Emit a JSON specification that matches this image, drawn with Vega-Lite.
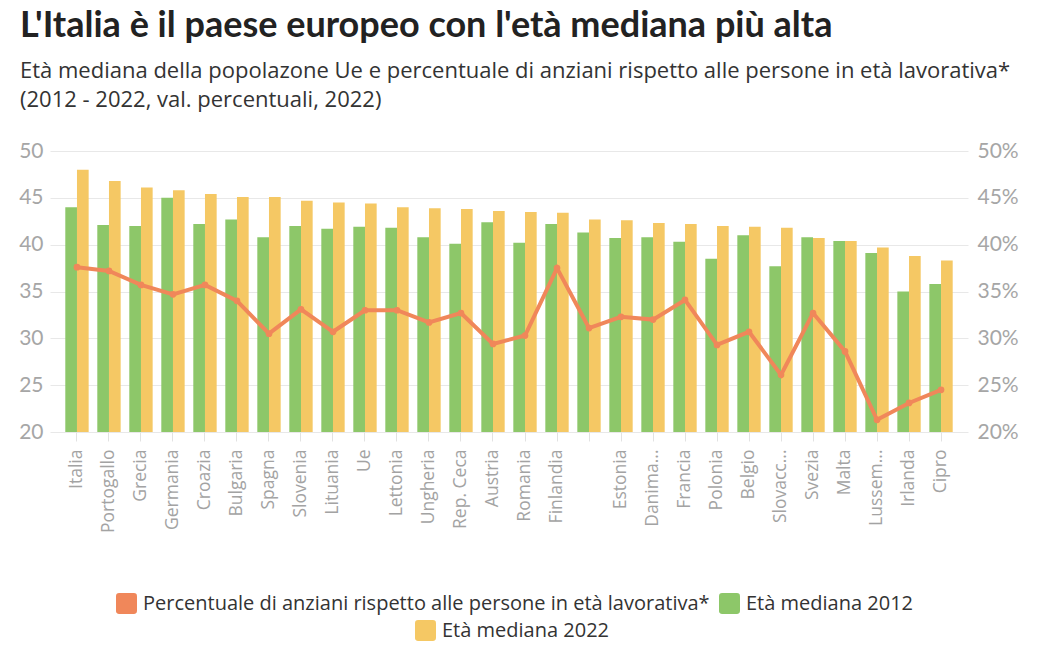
{
  "$schema": "https://vega.github.io/schema/vega-lite/v6.json",
  "width": 918,
  "height": 281,
  "autosize": {"type": "none"},
  "padding": {"left": 50, "top": 151, "right": 82, "bottom": 220},
  "background": "white",
  "title": {
    "text": "L'Italia è il paese europeo con l'età mediana più alta",
    "subtitle": [
      "Età mediana della popolazone Ue e percentuale di anziani rispetto alle persone in età lavorativa*",
      "(2012 - 2022, val. percentuali, 2022)"
    ],
    "anchor": "start",
    "frame": "group",
    "dx": -30,
    "offset": 28,
    "font": "Lato",
    "fontSize": 36,
    "fontWeight": "bold",
    "color": "#222222",
    "subtitleFont": "Open Sans",
    "subtitleFontSize": 22,
    "subtitleColor": "#333333",
    "subtitlePadding": 16,
    "subtitleLineHeight": 29
  },
  "data": {
    "values": [
      {"paese": "Italia", "eta2012": 44.0, "eta2022": 48.0, "anziani": 37.6},
      {"paese": "Portogallo", "eta2012": 42.1, "eta2022": 46.8, "anziani": 37.2},
      {"paese": "Grecia", "eta2012": 42.0, "eta2022": 46.1, "anziani": 35.7},
      {"paese": "Germania", "eta2012": 45.0, "eta2022": 45.8, "anziani": 34.7},
      {"paese": "Croazia", "eta2012": 42.2, "eta2022": 45.4, "anziani": 35.7},
      {"paese": "Bulgaria", "eta2012": 42.7, "eta2022": 45.1, "anziani": 34.0},
      {"paese": "Spagna", "eta2012": 40.8, "eta2022": 45.1, "anziani": 30.5},
      {"paese": "Slovenia", "eta2012": 42.0, "eta2022": 44.7, "anziani": 33.1},
      {"paese": "Lituania", "eta2012": 41.7, "eta2022": 44.5, "anziani": 30.7},
      {"paese": "Ue", "eta2012": 41.9, "eta2022": 44.4, "anziani": 33.0},
      {"paese": "Lettonia", "eta2012": 41.8, "eta2022": 44.0, "anziani": 33.0},
      {"paese": "Ungheria", "eta2012": 40.8, "eta2022": 43.9, "anziani": 31.7},
      {"paese": "Rep. Ceca", "eta2012": 40.1, "eta2022": 43.8, "anziani": 32.7},
      {"paese": "Austria", "eta2012": 42.4, "eta2022": 43.6, "anziani": 29.4},
      {"paese": "Romania", "eta2012": 40.2, "eta2022": 43.5, "anziani": 30.3},
      {"paese": "Finlandia", "eta2012": 42.2, "eta2022": 43.4, "anziani": 37.5},
      {"paese": "Paesi Bassi", "eta2012": 41.3, "eta2022": 42.7, "anziani": 31.1},
      {"paese": "Estonia", "eta2012": 40.7, "eta2022": 42.6, "anziani": 32.3},
      {"paese": "Danimarca", "eta2012": 40.8, "eta2022": 42.3, "anziani": 32.0},
      {"paese": "Francia", "eta2012": 40.3, "eta2022": 42.2, "anziani": 34.1},
      {"paese": "Polonia", "eta2012": 38.5, "eta2022": 42.0, "anziani": 29.3},
      {"paese": "Belgio", "eta2012": 41.0, "eta2022": 41.9, "anziani": 30.7},
      {"paese": "Slovacchia", "eta2012": 37.7, "eta2022": 41.8, "anziani": 26.1},
      {"paese": "Svezia", "eta2012": 40.8, "eta2022": 40.7, "anziani": 32.7},
      {"paese": "Malta", "eta2012": 40.4, "eta2022": 40.4, "anziani": 28.6},
      {"paese": "Lussemburgo", "eta2012": 39.1, "eta2022": 39.7, "anziani": 21.3},
      {"paese": "Irlanda", "eta2012": 35.0, "eta2022": 38.8, "anziani": 23.1},
      {"paese": "Cipro", "eta2012": 35.8, "eta2022": 38.3, "anziani": 24.5}
    ]
  },
  "encoding": {
    "x": {
      "field": "paese",
      "type": "nominal",
      "sort": null,
      "title": null,
      "scale": {"paddingInner": 0.27, "paddingOuter": 0.478},
      "axis": {
        "labelAngle": -90,
        "labelFont": "Open Sans",
        "labelFontSize": 17.5,
        "labelColor": "#a3a3a3",
        "labelPadding": 8,
        "labelOverlap": false,
        "tickSize": 9,
        "tickColor": "#e2e2e2",
        "domain": false,
        "grid": false,
        "labelExpr": "datum.label == 'Paesi Bassi' ? '' : datum.label == 'Danimarca' ? 'Danima...' : datum.label == 'Slovacchia' ? 'Slovacc...' : datum.label == 'Lussemburgo' ? 'Lussem...' : datum.label"
      }
    }
  },
  "layer": [
    {
      "layer": [
        {
          "mark": {"type": "bar"},
          "encoding": {
            "xOffset": {"datum": "2012", "scale": {"domain": ["2012", "2022"], "paddingInner": 0}},
            "y": {
              "field": "eta2012",
              "type": "quantitative",
              "title": null,
              "scale": {"domain": [20, 50], "zero": false, "clamp": true},
              "axis": {
                "values": [20, 25, 30, 35, 40, 45, 50],
                "labelFont": "Lato",
                "labelFontSize": 21,
                "labelColor": "#a6a6a6",
                "labelPadding": 7,
                "domain": false,
                "ticks": false,
                "grid": true,
                "gridColor": "#e8e8e8"
              }
            },
            "color": {
              "datum": "Età mediana 2012",
              "scale": {
                "domain": ["Percentuale di anziani rispetto alle persone in età lavorativa*", "Età mediana 2012"],
                "range": ["#f0875a", "#8dc769"]
              },
              "legend": {"orient": "none", "legendX": 66, "legendY": 442, "direction": "horizontal", "title": null}
            }
          }
        },
        {
          "mark": {"type": "bar"},
          "encoding": {
            "xOffset": {"datum": "2022"},
            "y": {"field": "eta2022", "type": "quantitative"},
            "fill": {
              "datum": "Età mediana 2022",
              "scale": {"range": ["#f5c864"]},
              "legend": {"orient": "none", "legendX": 365, "legendY": 469, "direction": "horizontal", "title": null}
            }
          }
        }
      ]
    },
    {
      "mark": {"type": "line", "strokeWidth": 4, "point": {"size": 45, "filled": true}},
      "encoding": {
        "y": {
          "field": "anziani",
          "type": "quantitative",
          "title": null,
          "scale": {"domain": [20, 50], "zero": false},
          "axis": {
            "orient": "right",
            "values": [20, 25, 30, 35, 40, 45, 50],
            "labelExpr": "datum.value + '%'",
            "labelFont": "Lato",
            "labelFontSize": 21,
            "labelColor": "#a6a6a6",
            "labelPadding": 9,
            "domain": false,
            "ticks": false,
            "grid": false
          }
        },
        "color": {"datum": "Percentuale di anziani rispetto alle persone in età lavorativa*"}
      }
    }
  ],
  "resolve": {"scale": {"y": "independent"}},
  "config": {
    "view": {"stroke": null},
    "legend": {
      "symbolType": "M-0.7,-1H0.7Q1,-1 1,-0.7V0.7Q1,1 0.7,1H-0.7Q-1,1 -1,0.7V-0.7Q-1,-1 -0.7,-1Z",
      "symbolSize": 441,
      "symbolStrokeWidth": 0,
      "symbolOpacity": 1,
      "labelFont": "Open Sans",
      "labelFontSize": 20,
      "labelColor": "#333333",
      "labelOffset": 6,
      "columnPadding": 9,
      "labelLimit": 700
    }
  }
}
